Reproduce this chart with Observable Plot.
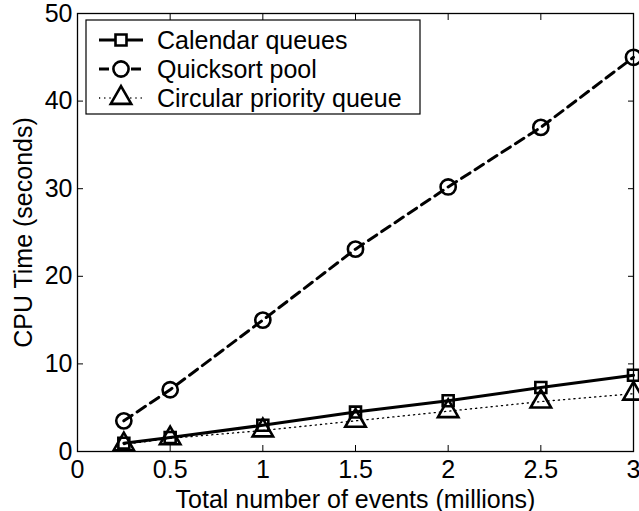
<!DOCTYPE html>
<html><head><meta charset="utf-8">
<script src="https://cdn.jsdelivr.net/npm/d3@7"></script>
<script src="https://cdn.jsdelivr.net/npm/@observablehq/plot@0.6"></script>
<style>
body{margin:0;background:#fff;}
#wrap{position:relative;width:639px;height:511px;font-family:"Liberation Sans",Arial,Helvetica,sans-serif;}
#legend{position:absolute;left:0;top:0;}
</style></head><body><div id="wrap"></div>
<script>
const events = [0.25, 0.5, 1, 1.5, 2, 2.5, 3];
const calendar = [0.95, 1.6, 3.0, 4.5, 5.8, 7.3, 8.7];
const quicksort = [3.5, 7.05, 15, 23.1, 30.2, 37, 45];
const circular = [0.8, 1.5, 2.4, 3.5, 4.6, 5.7, 6.6];
const seriesNames = ["Calendar queues", "Quicksort pool", "Circular priority queue"];
const xTicks = [0, 0.5, 1, 1.5, 2, 2.5, 3];
const xTickLabels = ["0", "0.5", "1", "1.5", "2", "2.5", "3"];
const yTicks = [0, 10, 20, 30, 40, 50];
const yTickLabels = ["0", "10", "20", "30", "40", "50"];
const xLabel = "Total number of events (millions)";
const yLabel = "CPU Time (seconds)";

const styles = [
  {symbol: "square", dash: null, sw: 3, r: 6.2},
  {symbol: "circle", dash: "10,6", sw: 3, r: 7.6},
  {symbol: "triangle", dash: "1.2,4", sw: 1.3, r: 7.6}
];
const seriesVals = [calendar, quicksort, circular];
const data = [];
seriesVals.forEach((vals, i) => vals.forEach((v, j) => data.push({series: seriesNames[i], x: events[j], y: v})));

const marks = [];
seriesNames.forEach((name, i) => {
  const d = data.filter(e => e.series === name);
  const s = styles[i];
  marks.push(Plot.line(d, {x: "x", y: "y", stroke: "black", strokeWidth: s.sw, strokeDasharray: s.dash}));
});
seriesNames.forEach((name, i) => {
  const d = data.filter(e => e.series === name);
  const s = styles[i];
  marks.push(Plot.dot(d, {x: "x", y: "y", symbol: s.symbol, r: s.r, stroke: "black", strokeWidth: 2.6, fill: "none"}));
});

const chart = Plot.plot({
  width: 639, height: 511,
  marginLeft: 77, marginRight: 6, marginTop: 13, marginBottom: 60,
  style: {fontSize: "25px", fontFamily: "'Liberation Sans', Arial, Helvetica, sans-serif", color: "black", background: "white"},
  x: {domain: [0, 3]},
  y: {domain: [0, 50]},
  marks: [
    ...marks,
    Plot.frame({stroke: "black", strokeWidth: 1.3}),
    Plot.axisX(xTicks, {anchor: "bottom", tickSize: 0, tickPadding: 9, tickFormat: d => xTickLabels[xTicks.indexOf(d)], label: xLabel, labelAnchor: "center", labelArrow: "none", labelOffset: 56}),
    Plot.axisX(xTicks, {anchor: "bottom", tickSize: -6, tickFormat: () => "", label: null}),
    Plot.axisX(xTicks, {anchor: "top", tickSize: -6, tickFormat: () => "", label: null}),
    Plot.axisY(yTicks, {anchor: "left", tickSize: 0, tickPadding: 5, tickFormat: d => yTickLabels[yTicks.indexOf(d)], label: yLabel, labelAnchor: "center", labelArrow: "none", labelOffset: 63}),
    Plot.axisY(yTicks, {anchor: "left", tickSize: -6, tickFormat: () => "", label: null}),
    Plot.axisY(yTicks, {anchor: "right", tickSize: -6, tickFormat: () => "", label: null})
  ]
});
const wrap = document.getElementById("wrap");
wrap.appendChild(chart);

// Legend overlay
const lg = d3.select(wrap).append("svg").attr("id", "legend").attr("width", 639).attr("height", 511);
const bx = 86, by = 20, bw = 334, bh = 94;
lg.append("rect").attr("x", bx).attr("y", by).attr("width", bw).attr("height", bh)
  .attr("fill", "white").attr("stroke", "black").attr("stroke-width", 1.2);
const rowY = [40, 69, 98];
seriesNames.forEach((name, i) => {
  const s = styles[i];
  const y = rowY[i];
  lg.append("line").attr("x1", 99).attr("x2", 143).attr("y1", y).attr("y2", y)
    .attr("stroke", "black").attr("stroke-width", s.sw).attr("stroke-dasharray", s.dash);
  const sym = {square: d3.symbolSquare, circle: d3.symbolCircle, triangle: d3.symbolTriangle}[s.symbol];
  lg.append("path").attr("d", d3.symbol(sym, Math.PI * s.r * s.r)()).attr("transform", `translate(121,${y})`)
    .attr("fill", "white").attr("stroke", "black").attr("stroke-width", 2.6);
  lg.append("text").attr("x", 157).attr("y", y).attr("dy", "0.35em").attr("font-size", 25)
    .attr("font-family", "'Liberation Sans', Arial, Helvetica, sans-serif").text(name);
});
</script></body></html>
